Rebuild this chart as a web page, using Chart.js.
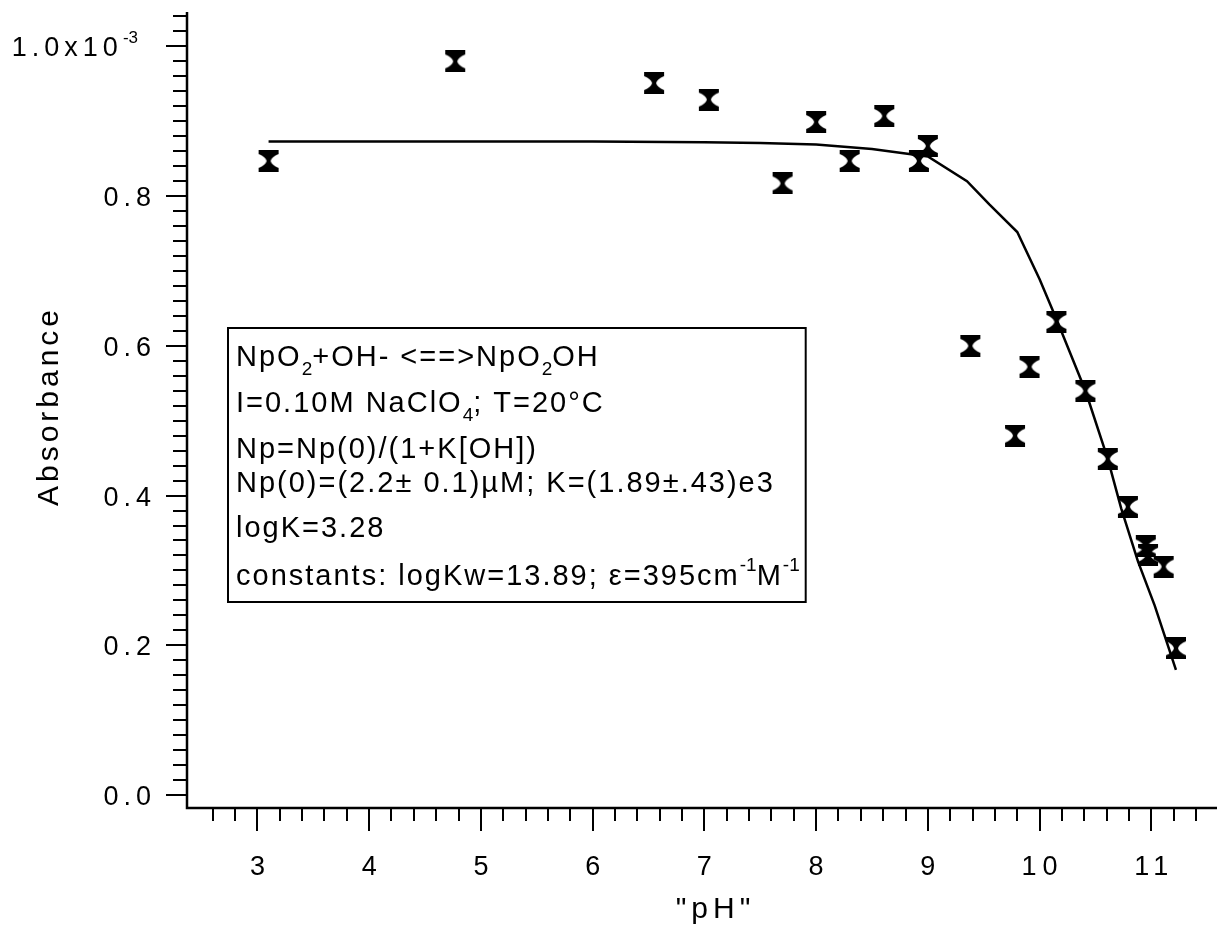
<!DOCTYPE html>
<html>
<head>
<meta charset="utf-8">
<script src="https://cdn.jsdelivr.net/npm/chart.js@4.4.1/dist/chart.umd.min.js"></script>
<style>
  html, body { margin: 0; padding: 0; background: #fff; }
  canvas { display: block; }
</style>
</head>
<body>
<canvas id="absChart" width="1217" height="932"></canvas>
<script>
// measured absorbance vs "pH"
const phData  = [3.10, 4.77, 6.55, 7.04, 7.70, 8.00, 8.30, 8.61, 8.92, 9.00, 9.38, 9.78, 9.91, 10.15, 10.41, 10.61, 10.79, 10.95, 10.97, 11.11, 11.22];
const absData = [0.847, 0.980, 0.951, 0.929, 0.817, 0.899, 0.847, 0.907, 0.847, 0.867, 0.600, 0.480, 0.572, 0.632, 0.540, 0.449, 0.385, 0.332, 0.321, 0.305, 0.196];

// fitted curve
const fitPh  = [3.1, 4.0, 5.0, 6.0, 7.0, 7.5, 8.0, 8.5, 8.8, 9.0, 9.35, 9.55, 9.8, 10.0, 10.15, 10.41, 10.61, 10.73, 10.88, 11.03, 11.22];
const fitAbs = [0.873, 0.873, 0.873, 0.873, 0.872, 0.871, 0.869, 0.863, 0.857, 0.853, 0.820, 0.789, 0.752, 0.689, 0.636, 0.540, 0.449, 0.383, 0.312, 0.253, 0.167];

// axis ticks
const xTickValues = [3, 4, 5, 6, 7, 8, 9, 10, 11];
const xTickLabels = ['3', '4', '5', '6', '7', '8', '9', '10', '11'];
const yTickValues = [0, 0.2, 0.4, 0.6, 0.8, 1.0];
const yTickLabels = ['0.0', '0.2', '0.4', '0.6', '0.8', '1.0x10^-3'];

// annotation box, [text, '' | 'sub' | 'sup']
const noteLines = [
  [['NpO', ''], ['2', 'sub'], ['+OH- <==>NpO', ''], ['2', 'sub'], ['OH', '']],
  [['I=0.10M NaClO', ''], ['4', 'sub'], ['; T=20°C', '']],
  [['Np=Np(0)/(1+K[OH])', '']],
  [['Np(0)=(2.2± 0.1)µM; K=(1.89±.43)e3', '']],
  [['logK=3.28', '']],
  [['constants: logKw=13.89; ε=395cm', ''], ['-1', 'sup'], ['M', ''], ['-1', 'sup']]
];
const noteBaselines = [366, 412, 458, 492, 537, 585];

const FONT = '"Liberation Sans", Arial, Helvetica, sans-serif';

function hourglass() {
  const c = document.createElement('canvas');
  c.width = 22; c.height = 22;
  const g = c.getContext('2d');
  g.fillStyle = '#000';
  g.beginPath();
  g.moveTo(1, 0); g.lineTo(21, 0); g.lineTo(21, 4);
  g.quadraticCurveTo(14, 7, 13, 11);
  g.quadraticCurveTo(14, 15, 21, 18);
  g.lineTo(21, 22); g.lineTo(1, 22); g.lineTo(1, 18);
  g.quadraticCurveTo(8, 15, 9, 11);
  g.quadraticCurveTo(8, 7, 1, 4);
  g.closePath();
  g.fill();
  return c;
}

// draws text pieces with sub/superscripts, returns width
function drawRich(ctx, parts, x, y, size, spacing, measureOnly) {
  let cx = x;
  for (const [t, mode] of parts) {
    const s = mode ? Math.round(size * 0.64) : size;
    ctx.font = s + 'px ' + FONT;
    ctx.letterSpacing = (mode ? 0 : spacing) + 'px';
    const dy = mode === 'sub' ? size * 0.3 : mode === 'sup' ? -size * 0.5 : 0;
    if (!measureOnly) ctx.fillText(t, cx, y + dy);
    cx += ctx.measureText(t).width;
  }
  ctx.letterSpacing = '0px';
  return cx - x;
}

function splitSup(label) {
  const i = label.indexOf('^');
  return i < 0 ? [[label, '']] : [[label.slice(0, i), ''], [label.slice(i + 1), 'sup']];
}

const framePlugin = {
  id: 'frame',
  afterDatasetsDraw(chart) {
    const ctx = chart.ctx;
    const xs = chart.scales.x, ys = chart.scales.y;
    const left = xs.left, bottom = ys.bottom;
    ctx.save();
    ctx.strokeStyle = '#000';
    ctx.fillStyle = '#000';

    // axis lines
    ctx.lineWidth = 2.5;
    ctx.beginPath();
    ctx.moveTo(left, ys.top);
    ctx.lineTo(left, bottom);
    ctx.lineTo(chart.width, bottom);
    ctx.stroke();

    // x ticks every 0.2, long at integers
    ctx.lineWidth = 2;
    for (let k = 13; k <= 57; k++) {
      const px = Math.round(xs.getPixelForValue(k / 5));
      const len = k % 5 === 0 ? 23 : 13;
      ctx.beginPath();
      ctx.moveTo(px, bottom);
      ctx.lineTo(px, bottom + len);
      ctx.stroke();
    }
    // y ticks every 0.02, long at 0.2
    for (let k = 0; k <= 52; k++) {
      const py = Math.round(ys.getPixelForValue(k / 50));
      const len = k % 10 === 0 ? 21 : 14;
      ctx.beginPath();
      ctx.moveTo(left - len, py);
      ctx.lineTo(left, py);
      ctx.stroke();
    }

    // tick labels
    ctx.textBaseline = 'alphabetic';
    ctx.textAlign = 'left';
    xTickValues.forEach((v, i) => {
      const px = xs.getPixelForValue(v);
      const w = drawRich(ctx, [[xTickLabels[i], '']], 0, 0, 27, 6, true) - 6;
      drawRich(ctx, [[xTickLabels[i], '']], px - w / 2, 875, 27, 6);
    });
    yTickValues.forEach((v, i) => {
      const py = ys.getPixelForValue(v);
      const parts = splitSup(yTickLabels[i]);
      const w = drawRich(ctx, parts, 0, 0, 27, 5, true) - (parts.length > 1 ? 0 : 5);
      const right = parts.length > 1 ? 138 : 151;
      drawRich(ctx, parts, right - w, py + 10, 27, 5);
    });

    // axis titles
    const tw = drawRich(ctx, [['"pH"', '']], 0, 0, 30, 5, true) - 5;
    drawRich(ctx, [['"pH"', '']], 713 - tw / 2, 918, 30, 5);
    ctx.save();
    ctx.translate(58, 408);
    ctx.rotate(-Math.PI / 2);
    const aw = drawRich(ctx, [['Absorbance', '']], 0, 0, 30, 4, true) - 4;
    drawRich(ctx, [['Absorbance', '']], -aw / 2, 0, 30, 4);
    ctx.restore();

    // annotation box
    let maxW = 0;
    noteLines.forEach(parts => { maxW = Math.max(maxW, drawRich(ctx, parts, 0, 0, 29, 2, true)); });
    noteLines.forEach((parts, i) => drawRich(ctx, parts, 236, noteBaselines[i], 29, 2));
    ctx.lineWidth = 2;
    ctx.strokeRect(228, 328, maxW + 14, 274);

    ctx.restore();
  }
};

new Chart(document.getElementById('absChart').getContext('2d'), {
  type: 'scatter',
  data: {
    datasets: [
      {
        data: fitPh.map((x, i) => ({ x: x, y: fitAbs[i] })),
        showLine: true,
        borderColor: '#000',
        borderWidth: 2.5,
        pointRadius: 0,
        tension: 0,
        order: 2
      },
      {
        data: phData.map((x, i) => ({ x: x, y: absData[i] })),
        pointStyle: hourglass(),
        pointRadius: 11,
        order: 1
      }
    ]
  },
  options: {
    responsive: false,
    animation: false,
    devicePixelRatio: 1,
    layout: { padding: { left: 187, right: 3, top: 12, bottom: 124 } },
    plugins: { legend: { display: false }, tooltip: { enabled: false } },
    scales: {
      x: { type: 'linear', min: 2.37, max: 11.48, display: false },
      y: { type: 'linear', min: -0.0174, max: 1.046, display: false }
    }
  },
  plugins: [framePlugin]
});
</script>
</body>
</html>
